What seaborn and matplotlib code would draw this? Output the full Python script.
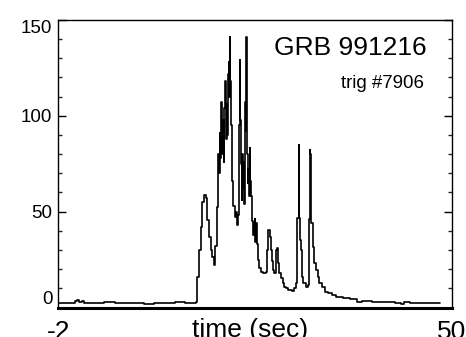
import matplotlib
matplotlib.use("Agg")
import matplotlib.pyplot as plt
import seaborn as sns
import pandas as pd
from matplotlib.ticker import MultipleLocator

# ---- data ----
time_sec = [
    -2.0, -1.0, 0.0, 0.4, 0.65, 0.9, 1.3, 1.6, 3.0, 5.0, 6.0, 8.0, 10.6, 10.8,
    13.0, 14.0, 15.5, 16.2,
    16.30, 16.52, 16.74, 16.96, 17.18, 17.40, 17.62, 17.84, 18.06, 18.28, 18.50,
    18.72, 18.85, 19.03, 19.16, 19.30, 19.38, 19.47, 19.60, 19.69, 19.82, 19.91,
    20.00, 20.13, 20.22, 20.31, 20.40, 20.49, 20.57, 20.62, 20.71, 20.79, 20.88,
    20.97, 21.06, 21.23, 21.46, 21.59, 21.72, 21.85, 21.94, 22.03, 22.12, 22.20,
    22.29, 22.38, 22.47, 22.56, 22.65, 22.73, 22.78, 22.82, 22.91, 23.00, 23.09,
    23.17, 23.26, 23.35, 23.44, 23.53, 23.62, 23.70, 23.79, 23.92, 24.01, 24.10,
    24.19, 24.28,
    24.45, 24.67, 24.90, 25.34, 25.56, 25.69, 25.87, 26.00, 26.17, 26.31, 26.44,
    26.66, 26.79, 26.97, 27.05, 27.10, 27.32, 27.54, 27.76, 27.98, 28.20, 28.64,
    29.08, 29.30, 29.52, 29.61, 29.79, 29.83, 29.92, 30.01, 30.10, 30.27, 30.54,
    30.85, 31.07, 31.20, 31.24, 31.38, 31.46, 31.60, 31.73, 31.95, 32.17, 32.39,
    32.60, 33.06, 33.50, 33.90, 34.37, 35.20, 36.14, 37.00, 37.90, 38.40, 39.00,
    40.00, 41.00, 42.00, 43.00, 43.50, 44.00, 45.00, 46.00, 47.00, 48.00, 48.50,
]
counts = [
    2.5, 2.6, 2.5, 3.2, 4.0, 3.0, 3.5, 2.6, 2.5, 2.7, 2.3, 2.6, 1.8, 2.6,
    2.5, 2.8, 2.4, 2.6,
    3, 16, 30, 42, 55, 58.7, 57, 45.6, 37, 30, 26.5,
    22, 32, 52.6, 80, 70, 91, 78, 107, 80, 98, 76,
    104, 118, 88, 106, 90, 122, 128, 110, 141, 118, 95,
    80, 66, 53, 47, 50, 43, 48, 95, 129, 98, 75,
    56, 80, 62, 76, 54, 96, 107, 92, 141, 80, 65,
    72, 58, 83, 66, 58, 46, 45, 38, 44, 46, 34,
    44, 33,
    24.8, 20.6, 18.7, 18, 18.5, 30, 40.4, 37, 30, 24, 19.6,
    17.8, 30, 31, 25, 23, 17.8, 15.3, 12.6, 10.9, 10, 9,
    8.6, 10, 12.6, 46.6, 46.6, 85, 46.6, 35, 30, 16, 12.6,
    10.9, 12, 46, 82, 80, 44, 44, 31.7, 23, 19.6, 16,
    12.6, 10.9, 8.3, 7.4, 6.5, 5.6, 4.8, 4.3, 3.0, 3.5, 3.2,
    3.0, 2.8, 3.0, 2.6, 2.0, 2.8, 2.4, 2.6, 2.3, 2.5, 2.5,
]
y_ticks = [0, 50, 100, 150]
x_tick_labels = ["-2", "50"]
title_text = "GRB 991216"
trigger_text = "trig #7906"

df = pd.DataFrame({"time": time_sec, "counts": counts})

sns.set_style("ticks")
plt.rcParams["font.family"] = ["Liberation Sans", "DejaVu Sans"]

fig = plt.figure(figsize=(4.66, 3.37), dpi=100)
ax = fig.add_axes([0.125, 0.0875, 0.844, 0.8535])

sns.lineplot(data=df, x="time", y="counts", ax=ax, color="black",
             linewidth=1.2, estimator=None, sort=False, drawstyle="steps-mid")

ax.set_xlim(-2, 50)
ax.set_ylim(0, 150)

for side in ["left", "right", "top"]:
    ax.spines[side].set_visible(True)
    ax.spines[side].set_linewidth(1.0)
    ax.spines[side].set_color("black")
ax.spines["bottom"].set_linewidth(2.2)
ax.spines["bottom"].set_color("black")

ax.set_yticks(y_ticks)
ax.yaxis.set_minor_locator(MultipleLocator(10))
ax.tick_params(axis="y", which="major", direction="in", length=6, width=1,
               left=True, right=True, labelsize=13.5, pad=4.3, colors="black")
ax.tick_params(axis="y", which="minor", direction="in", length=3, width=1,
               left=True, right=True)
labels = ax.get_yticklabels()
labels[0].set_va("bottom")
labels[-1].set_va("top")

ax.set_xticks([-2, 50])
ax.set_xticklabels(x_tick_labels)
ax.tick_params(axis="x", which="both", length=0, labelsize=19, pad=9,
               colors="black")
ax.set_xlabel("")
ax.set_ylabel("")
ax.text(0.487, -0.035, "time (sec)", transform=ax.transAxes, ha="center",
        va="top", fontsize=19, color="black")

ax.text(0.937, 0.8777, title_text, transform=ax.transAxes, ha="right",
        va="baseline", fontsize=19, color="black")
ax.text(0.930, 0.762, trigger_text, transform=ax.transAxes, ha="right",
        va="baseline", fontsize=13.4, color="black")

fig.savefig("out.png", dpi=100)
